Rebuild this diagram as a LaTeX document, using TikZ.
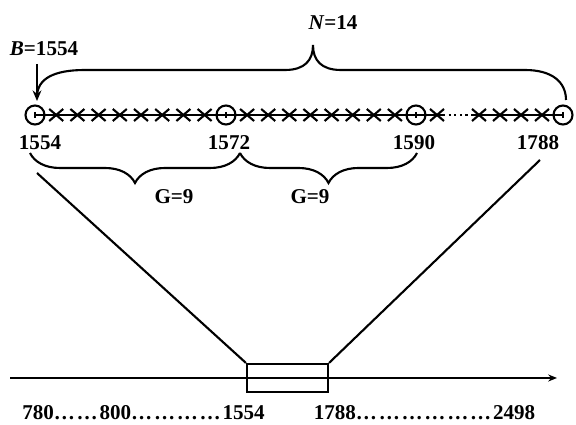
\documentclass[tikz,border=0pt]{standalone}
\usepackage{fontspec}
\setmainfont{Liberation Serif}
\usepackage{tikz}
\usetikzlibrary{arrows.meta,positioning,decorations.pathreplacing,calc}
\newcommand\gapdots{…\kern1pt}

\begin{document}
\begin{tikzpicture}[x=0.02cm,y=-0.02cm,line width=1.2pt,every node/.style={font=\fontsize{12}{14}\selectfont\bfseries,inner sep=1pt},
ring/.style={draw,circle,minimum size=0.38cm,inner sep=0pt},
gbrace/.style={decorate,decoration={brace,mirror,amplitude=0.6cm,aspect=0.5}}]
\useasboundingbox (0,0) rectangle (576,425);
% sampled line
\node[ring] (c1554) at (35,115) {};
\node[ring] (c1572) at (226,115) {};
\node[ring] (c1590) at (416,115) {};
\node[ring] (c1788) at (563,115) {};
\coordinate (dots1) at (443,115);\coordinate (dots2) at (472,115);
\draw (c1554.center)--(dots1);\draw[dotted] (dots1)--(dots2);\draw (dots2)--(c1788.center);
\foreach \c in {c1554,c1572,c1590,c1788} \draw[line width=0.7pt] (\c.center) ++(0,-3)--++(0,6);
\foreach \x in {56.2,77.4,98.6,119.8,141,162.2,183.4,204.6,247.1,268.2,289.3,310.4,331.6,352.7,373.8,394.9,437,479,500,521,542}
  \draw (\x-7,109)--(\x+7,121) (\x-7,121)--(\x+7,109);
\node (l1554) at (40,143) {1554};
\node (l1572) at (229,143) {1572};
\node (l1590) at (414,143) {1590};
\node (l1788) at (538,143) {1788};
% braces
\draw (37,97) .. controls (37,78) and (55,70) .. (85,70) -- (285,70) .. controls (305,70) and (313,60) .. (313,45)
  .. controls (313,60) and (321,70) .. (341,70) -- (525,70) .. controls (552,70) and (566,82) .. (566,100);
\node (n) at (333,23) {\textit{N}=14};
\node (b) at (44,49) {\textit{B}=1554};
\coordinate (barrow) at (37,64);
\draw[-{Stealth[length=6pt,width=5pt]}] (barrow)--(37,101);
\draw[gbrace] (30,153)--(240,153);
\draw[gbrace] (240,153)--(417,153);
\node (g1) at (174,197) {G=9};
\node (g2) at (310,197) {G=9};
% zoom onto the axis
\node[draw,minimum width=1.62cm,minimum height=0.56cm] (box) at (287.5,378) {};
\coordinate (dl) at (37,173);\coordinate (dr) at (540,160);
\draw (dl)--(box.north west);\draw (dr)--(box.north east);
\coordinate (axs) at (10,378);\coordinate (axe) at (557,378);
\draw[-{Stealth[length=5pt,width=4pt]}] (axs)--(axe);
\node[inner sep=0pt] (t1) at (143.5,413) {780\gapdots\gapdots 800\gapdots\gapdots\gapdots\gapdots 1554};
\node[inner sep=0pt] (t2) at (424.5,413) {1788\gapdots\gapdots\gapdots\gapdots\gapdots\gapdots 2498};
\end{tikzpicture}
\end{document}
